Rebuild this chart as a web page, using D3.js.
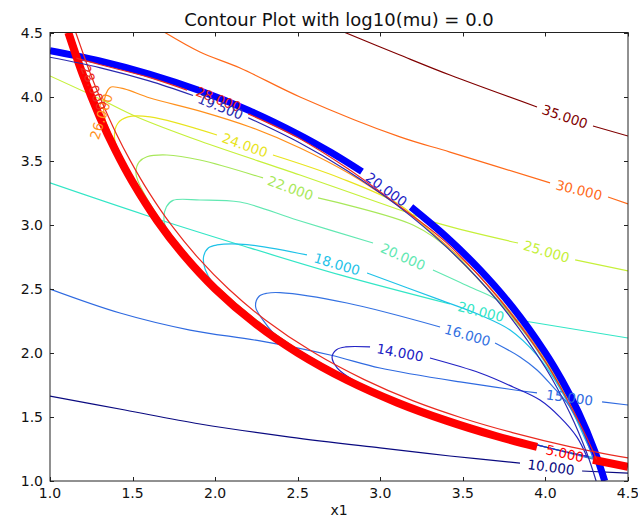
<!DOCTYPE html>
<html><head><meta charset="utf-8">
<script src="https://cdn.jsdelivr.net/npm/d3@7"></script>
<style>
html,body{margin:0;padding:0;background:#fff;}
svg{display:block;}
text{font-family:"DejaVu Sans",sans-serif;}
</style></head>
<body><svg id="chart" width="638" height="519"></svg>
<script>
// ---------- DATA ----------
const xTicks = [1.0, 1.5, 2.0, 2.5, 3.0, 3.5, 4.0, 4.5];
const yTicks = [1.0, 1.5, 2.0, 2.5, 3.0, 3.5, 4.0, 4.5];
const titleText = "Contour Plot with log10(mu) = 0.0";
const xLabelText = "x1";

// objective contours (null = gap left for the inline label)
const f35 = [[2.786,4.5],[3.119,4.324],[3.422,4.168],[3.949,3.919],null,[4.288,3.770],[4.5,3.692]];
const f30 = [[1.696,4.5],[1.908,4.348],[2.151,4.223],[2.514,3.997],[3.119,3.685],[3.422,3.567],[4.028,3.326],null,[4.379,3.216],[4.5,3.162]];
const f25 = [[1.0,4.161],[1.303,3.981],[1.527,3.841],[1.908,3.653],[2.514,3.388],[3.119,3.115],[3.362,3.006],[3.834,2.857],null,[4.180,2.725],[4.5,2.639]];
const f20 = [[1.0,3.326],[1.575,3.076],[2.151,2.842],[2.756,2.608],[3.422,2.381],null,[3.798,2.264],[4.5,2.116]];
const f15 = [[1.0,2.498],[1.424,2.311],[1.848,2.178],[2.272,2.093],[2.696,1.983],[2.998,1.882],[3.483,1.773],[3.949,1.687],null,[4.343,1.617],[4.5,1.593]];
const f10 = [[1.0,1.663],[1.454,1.554],[1.908,1.445],[2.453,1.343],[2.998,1.258],[3.422,1.195],[3.846,1.140],null,[4.222,1.078],[4.5,1.062]];

// barrier contours (closed noses between the two constraints)
const b14 = [[4.26,1.19],[4.0,1.265],[3.6,1.405],[3.2,1.58],[2.95,1.715],[2.835,1.788],[2.74,1.88],[2.708,1.968],[2.735,2.025],[2.79,2.046],[2.938,2.046],null,[3.301,1.960],[3.604,1.843],[3.804,1.734],[3.967,1.632],[4.088,1.499],[4.191,1.343],[4.252,1.187]];
const b16 = [[4.29,1.17],[4.0,1.265],[3.6,1.405],[3.2,1.58],[2.8,1.807],[2.5,2.024],[2.393,2.105],[2.29,2.256],[2.245,2.36],[2.265,2.44],[2.314,2.465],[2.393,2.47],[2.798,2.389],[3.362,2.202],null,[3.695,2.077],[3.846,1.968],[3.949,1.866],[4.046,1.734],[4.131,1.609],[4.209,1.437],[4.27,1.242],[4.29,1.17]];
const b18 = [[4.3,1.18],[4.0,1.265],[3.5,1.446],[3.0,1.687],[2.5,2.024],[2.2,2.3],[1.987,2.545],[1.94,2.65],[1.93,2.75],[1.96,2.82],[2.011,2.842],[2.193,2.845],[2.556,2.764],null,[2.920,2.623],[3.362,2.413],[3.604,2.295],[3.786,2.178],[3.95,1.98],[4.08,1.74],[4.18,1.5],[4.25,1.3],[4.3,1.18]];
const b20 = [[4.31,1.17],[4.0,1.265],[3.5,1.446],[3.0,1.687],[2.5,2.024],[2.0,2.53],[1.708,2.962],[1.69,3.04],[1.705,3.14],[1.745,3.19],[1.908,3.193],[2.151,3.177],[2.496,3.037],[2.956,2.857],null,[3.319,2.647],[3.543,2.514],[3.725,2.397],[3.85,2.2],[4.0,1.92],[4.12,1.65],[4.22,1.4],[4.31,1.17]];
const b22 = [[4.31,1.17],[4.0,1.265],[3.5,1.446],[3.0,1.687],[2.5,2.024],[2.0,2.53],[1.7,2.977],[1.533,3.34],[1.52,3.41],[1.54,3.49],[1.587,3.53],[1.708,3.544],[1.908,3.505],[2.290,3.365],null,[2.623,3.209],[3.198,2.998],[3.422,2.803],[3.6,2.57],[3.8,2.28],[4.0,1.93],[4.15,1.6],[4.25,1.33],[4.31,1.17]];
const b24 = [[4.31,1.17],[4.0,1.265],[3.5,1.446],[3.0,1.687],[2.5,2.024],[2.0,2.53],[1.7,2.977],[1.5,3.373],[1.406,3.6],[1.39,3.69],[1.41,3.79],[1.472,3.841],[1.606,3.841],[2.011,3.700],null,[2.350,3.544],[2.756,3.365],[3.119,3.154],[3.3,2.95],[3.5,2.7],[3.75,2.35],[4.0,1.94],[4.15,1.6],[4.25,1.34],[4.31,1.17]];
const b26 = [[4.31,1.17],[4.0,1.265],[3.5,1.446],[3.0,1.687],[2.5,2.024],[2.0,2.53],[1.7,2.977],[1.5,3.373],[1.4,3.62],[1.33,3.84],[1.33,3.98],[1.35,4.05],[1.37,4.075],[1.45,4.06],[1.606,3.989],[1.908,3.887],[2.211,3.763],[2.514,3.599],[2.817,3.396],[3.059,3.193],[3.192,3.068],[3.4,2.84],[3.6,2.6],[3.8,2.3],[4.0,1.95],[4.15,1.62],[4.25,1.36],[4.31,1.17]];
const b28 = [[1.16,4.3],[1.3,4.25],[1.6,4.15],[1.83,4.05],null,[2.2,3.865],[2.5,3.68],[2.8,3.44],[3.1,3.16],[3.4,2.86],[3.7,2.45],[4.0,1.93],[4.2,1.47],[4.31,1.17]];

// constraint contours
const g1Thick = [[1.111,4.5],[1.2,4.167],[1.3,3.846],[1.4,3.571],[1.5,3.333],[1.65,3.030],[1.8,2.778],[2.0,2.5],[2.25,2.222],[2.5,2.0],[2.8,1.786],[3.1,1.613],[3.4,1.471],[3.7,1.351],[3.949,1.266],null,[4.288,1.166],[4.5,1.111]];
const g1Thin  = [[1.156,4.5],[1.25,4.16],[1.3,4.0],[1.4,3.714],[1.486,3.5],[1.6,3.25],[1.733,3.0],[1.9,2.737],[2.08,2.5],[2.3,2.261],[2.6,2.0],[2.9,1.793],[3.2,1.625],[3.5,1.49],[3.8,1.378],[4.16,1.265],[4.5,1.18]];
const g2Thick = [[1.0,4.359],[1.3,4.279],[1.6,4.176],[1.9,4.049],[2.2,3.894],[2.5,3.708],[2.7,3.565],[2.889,3.414],null,[3.186,3.138],[3.4,2.905],[3.6,2.653],[3.8,2.358],[4.0,2.0],[4.1,1.786],[4.2,1.536],[4.3,1.229],[4.359,1.0]];
const g2Thin  = [[1.0,4.307],[1.3,4.226],[1.6,4.122],[1.866,4.008],null,[2.2,3.835],[2.5,3.647],[2.8,3.422],[3.1,3.153],[3.4,2.827],[3.7,2.421],[4.0,1.884],[4.15,1.525],[4.25,1.220],[4.307,1.0]];

// contour label texts
const labelF = ["35.000","30.000","25.000","20.000","15.000","10.000"];
const labelB = ["14.000","16.000","18.000","20.000","22.000","24.000","26.000","28.000"];
const labelG = ["5.000","20.000","19.500"];
// free-standing labels (no gap): [x, y] positions
const label26At = [1.31, 3.845];
const label28At = [1.265, 4.07];

// ---------- STYLE ----------
const x = d3.scaleLinear().domain([1, 4.5]).range([50, 628]);
const y = d3.scaleLinear().domain([1, 4.5]).range([481, 32.5]);
const svg = d3.select("#chart");

svg.append("defs").append("clipPath").attr("id","clip")
  .append("rect").attr("x",50).attr("y",32.5).attr("width",578).attr("height",448.5);

const line = d3.line().defined(d => d !== null)
  .x(d => x(d[0])).y(d => y(d[1]))
  .curve(d3.curveCatmullRom.alpha(0.5));

const plot = svg.append("g").attr("clip-path","url(#clip)");

const C = {
  f35:"#800000", f30:"#ff6a1a", f25:"#c6f03a", f20:"#33e6c6", f15:"#2f6ae0", f10:"#0a0a80",
  b14:"#2222c4", b16:"#3572e2", b18:"#1ec2e8", b20:"#62e8b2", b22:"#a8e85a", b24:"#e8e41e", b26:"#ff901c", b28:"#ea2a20",
  red:"#ff0000", blue:"#0000ff", navy:"#2a2ab0"
};

const layers = [
  [f35,C.f35,1.2],[f30,C.f30,1.2],[f25,C.f25,1.2],[f20,C.f20,1.2],[f15,C.f15,1.2],[f10,C.f10,1.2],
  [b26,C.b26,1.2],[b24,C.b24,1.2],[b22,C.b22,1.2],[b20,C.b20,1.2],[b18,C.b18,1.2],[b16,C.b16,1.2],[b14,C.b14,1.2],
  [g2Thick,C.blue,7],[g1Thick,C.red,8],
  [g1Thin,C.b28,1.2],[b28,C.b28,1.2],[g2Thin,C.navy,1.2]
];
layers.forEach(([data,color,w]) => {
  plot.append("path").attr("d", line(data)).attr("fill","none")
    .attr("stroke", color).attr("stroke-width", w)
    .attr("stroke-linejoin","round").attr("stroke-linecap","butt");
});

const LFS = 13.5;
function gapLabel(data, text, color, dx=0, dy=0) {
  const i = data.indexOf(null);
  const a = data[i-1], b = data[i+1];
  const ax = x(a[0]), ay = y(a[1]), bx = x(b[0]), by = y(b[1]);
  let ang = Math.atan2(by-ay, bx-ax) * 180 / Math.PI;
  if (ang > 90) ang -= 180; if (ang < -90) ang += 180;
  const cx = (ax+bx)/2 + dx, cy = (ay+by)/2 + dy;
  svg.append("text").attr("transform", `translate(${cx},${cy}) rotate(${ang})`)
    .attr("text-anchor","middle").attr("dominant-baseline","central")
    .attr("font-size", LFS).attr("fill", color).text(text);
}
function freeLabel(pos, angle, text, color) {
  svg.append("text").attr("transform", `translate(${x(pos[0])},${y(pos[1])}) rotate(${angle})`)
    .attr("text-anchor","middle").attr("dominant-baseline","central")
    .attr("font-size", LFS).attr("fill", color).text(text);
}

gapLabel(f35, labelF[0], C.f35);
gapLabel(f30, labelF[1], C.f30);
gapLabel(f25, labelF[2], C.f25);
gapLabel(f20, labelF[3], C.f20);
gapLabel(f15, labelF[4], C.f15);
gapLabel(f10, labelF[5], C.f10);
gapLabel(b14, labelB[0], C.b14);
gapLabel(b16, labelB[1], C.b16);
gapLabel(b18, labelB[2], C.b18);
gapLabel(b20, labelB[3], C.b20);
gapLabel(b22, labelB[4], C.b22);
gapLabel(b24, labelB[5], C.b24);
freeLabel(label26At, -72, labelB[6], C.b26);
freeLabel(label28At, 68, labelB[7], C.b28);
gapLabel(b28, labelB[7], C.b28, 1, -3);
gapLabel(g1Thick, labelG[0], C.red);
gapLabel(g2Thick, labelG[1], C.b14);
gapLabel(g2Thin, labelG[2], C.navy);

// ---------- AXES ----------
const ax = svg.append("g");
ax.append("rect").attr("x",50).attr("y",32.5).attr("width",578).attr("height",448.5)
  .attr("fill","none").attr("stroke","#222").attr("stroke-width",1);
const fmt = d3.format(".1f");
xTicks.forEach(t => {
  const px = Math.round(x(t)) + 0.5;
  ax.append("line").attr("x1",px).attr("x2",px).attr("y1",481).attr("y2",477).attr("stroke","#222");
  ax.append("line").attr("x1",px).attr("x2",px).attr("y1",32.5).attr("y2",36.5).attr("stroke","#222");
  ax.append("text").attr("x", x(t)).attr("y", 498).attr("text-anchor","middle")
    .attr("font-size",14).attr("fill","#111").text(fmt(t));
});
yTicks.forEach(t => {
  const py = Math.round(y(t)) + 0.5;
  ax.append("line").attr("x1",50).attr("x2",54).attr("y1",py).attr("y2",py).attr("stroke","#222");
  ax.append("line").attr("x1",628).attr("x2",624).attr("y1",py).attr("y2",py).attr("stroke","#222");
  ax.append("text").attr("x", 43).attr("y", y(t)).attr("text-anchor","end")
    .attr("dominant-baseline","central").attr("font-size",14).attr("fill","#111").text(fmt(t));
});
svg.append("text").attr("x", 339).attr("y", 26).attr("text-anchor","middle")
  .attr("font-size",18).attr("fill","#111").text(titleText);
svg.append("text").attr("x", 339).attr("y", 515).attr("text-anchor","middle")
  .attr("font-size",14).attr("fill","#111").text(xLabelText);
</script></body></html>
